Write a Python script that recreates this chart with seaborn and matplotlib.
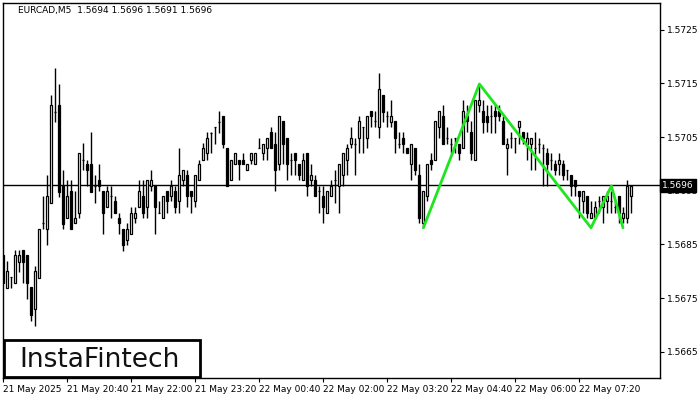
import numpy as np
import pandas as pd
import matplotlib
matplotlib.use("Agg")
import matplotlib.pyplot as plt
from matplotlib.patches import Rectangle
import seaborn as sns

# ---------------- data ----------------
opens = [1.56830,1.56769,1.56789,1.56779,1.56818,1.56840,1.56830,1.56770,1.56729,1.56788,
         1.56889,1.56878,1.56928,1.57097,1.57110,1.56958,1.56899,1.56949,1.56889,1.56909,
         1.57008,1.56999,1.56999,1.56959,1.56970,1.56949,1.56920,1.56940,1.56930,1.56899,
         1.56878,1.56858,1.56869,1.56899,1.56920,1.56940,1.56920,1.56959,1.56959,1.56909,
         1.56899,1.56949,1.56940,1.56949,1.56930,1.56970,1.56979,1.56949,1.56930,1.56970,
         1.57008,1.57020,1.57058,1.57068,1.57079,1.57089,1.57029,1.56970,1.56999,1.57008,
         1.57008,1.56989,1.57008,1.56999,1.57029,1.57020,1.57029,1.57060,1.57038,1.56999,
         1.57080,1.57049,1.57008,1.57020,1.56999,1.56970,1.57020,1.56970,1.56970,1.56949,
         1.56940,1.56909,1.56940,1.56970,1.56959,1.56979,1.57008,1.57038,1.57038,1.57049,
         1.57068,1.57049,1.57099,1.57080,1.57069,1.57128,1.57089,1.57079,1.57080,1.57038,
         1.57049,1.57029,1.56999,1.57029,1.56979,1.56889,1.56940,1.57008,1.57008,1.57069,
         1.57089,1.57049,1.57038,1.57049,1.57038,1.57029,1.57089,1.57060,1.57008,1.57110,
         1.57099,1.57089,1.57089,1.57099,1.57099,1.57080,1.57029,1.57049,1.57049,1.57069,
         1.57060,1.57038,1.57038,1.57029,1.57038,1.57029,1.57020,1.57008,1.56999,1.56999,
         1.56999,1.56989,1.56979,1.56970,1.56949,1.56930,1.56940,1.56899,1.56899,1.56930,
         1.56920,1.56930,1.56930,1.56920,1.56940,1.56899,1.56899,1.56940]
highs = [1.56830,1.56819,1.56789,1.56840,1.56840,1.56840,1.56830,1.56770,1.56809,1.56878,
         1.56940,1.56979,1.57128,1.57178,1.57149,1.56989,1.56970,1.56970,1.56949,1.57020,
         1.57039,1.57008,1.57060,1.56979,1.56999,1.56949,1.56959,1.56959,1.56940,1.56909,
         1.56878,1.56889,1.56920,1.56920,1.56970,1.56970,1.56970,1.56989,1.56959,1.56930,
         1.56940,1.56949,1.56970,1.56959,1.57029,1.56989,1.56989,1.56949,1.56979,1.57008,
         1.57039,1.57060,1.57060,1.57069,1.57099,1.57089,1.57029,1.57008,1.57020,1.57008,
         1.57020,1.56999,1.57020,1.57020,1.57049,1.57038,1.57049,1.57069,1.57060,1.57089,
         1.57080,1.57049,1.57020,1.57020,1.56999,1.57020,1.57020,1.56999,1.56979,1.56959,
         1.56959,1.56949,1.56970,1.56989,1.56999,1.57020,1.57038,1.57069,1.57049,1.57089,
         1.57069,1.57089,1.57099,1.57099,1.57170,1.57128,1.57099,1.57119,1.57080,1.57060,
         1.57060,1.57029,1.57038,1.57029,1.56999,1.56949,1.56999,1.57020,1.57080,1.57099,
         1.57110,1.57069,1.57049,1.57049,1.57038,1.57119,1.57110,1.57080,1.57119,1.57149,
         1.57119,1.57110,1.57110,1.57110,1.57110,1.57089,1.57049,1.57060,1.57049,1.57080,
         1.57060,1.57060,1.57049,1.57060,1.57049,1.57038,1.57029,1.57020,1.57008,1.57020,
         1.57008,1.56989,1.56979,1.56970,1.56949,1.56949,1.56940,1.56930,1.56930,1.56940,
         1.56940,1.56949,1.56949,1.56930,1.56940,1.56920,1.56970,1.56959]
lows = [1.56779,1.56769,1.56769,1.56779,1.56799,1.56779,1.56748,1.56708,1.56698,1.56788,
        1.56878,1.56848,1.56928,1.57079,1.56939,1.56878,1.56899,1.56878,1.56889,1.56899,
        1.56989,1.56959,1.56948,1.56928,1.56949,1.56869,1.56920,1.56899,1.56909,1.56869,
        1.56838,1.56848,1.56869,1.56889,1.56920,1.56899,1.56899,1.56949,1.56869,1.56909,
        1.56899,1.56909,1.56930,1.56909,1.56909,1.56959,1.56920,1.56909,1.56920,1.56970,
        1.57008,1.57008,1.57020,1.57038,1.57058,1.57029,1.56959,1.56970,1.56999,1.56970,
        1.56999,1.56989,1.56999,1.56999,1.57029,1.57008,1.57008,1.57029,1.56949,1.56989,
        1.56999,1.56970,1.56979,1.56979,1.56970,1.56970,1.56940,1.56959,1.56940,1.56909,
        1.56889,1.56909,1.56940,1.56928,1.56909,1.56959,1.56979,1.57029,1.56979,1.57020,
        1.57020,1.57029,1.57069,1.57069,1.57049,1.57079,1.57069,1.57069,1.57020,1.57029,
        1.57020,1.57020,1.56970,1.56979,1.56889,1.56880,1.56930,1.56989,1.57008,1.57049,
        1.57038,1.57038,1.57020,1.57020,1.57008,1.57029,1.57060,1.57008,1.57008,1.57097,
        1.57058,1.57060,1.57058,1.57058,1.57080,1.57038,1.56979,1.57029,1.57020,1.57038,
        1.57038,1.57008,1.56989,1.56989,1.57020,1.56959,1.56959,1.56989,1.56979,1.56979,
        1.56970,1.56970,1.56940,1.56940,1.56899,1.56909,1.56899,1.56899,1.56899,1.56909,
        1.56889,1.56909,1.56909,1.56909,1.56889,1.56889,1.56889,1.56909]
closes = [1.56779,1.56800,1.56789,1.56830,1.56830,1.56818,1.56779,1.56719,1.56800,1.56878,
          1.56889,1.56940,1.57110,1.57097,1.56948,1.56888,1.56940,1.56878,1.56899,1.57020,
          1.57008,1.56988,1.56948,1.56959,1.56959,1.56909,1.56949,1.56940,1.56909,1.56889,
          1.56848,1.56878,1.56909,1.56909,1.56949,1.56909,1.56970,1.56970,1.56920,1.56909,
          1.56940,1.56930,1.56959,1.56920,1.56979,1.56989,1.56940,1.56940,1.56979,1.56999,
          1.57029,1.57049,1.57058,1.57068,1.57079,1.57038,1.56959,1.57008,1.57020,1.56999,
          1.56999,1.56999,1.57020,1.57020,1.57029,1.57038,1.57049,1.57029,1.56989,1.57089,
          1.57038,1.56999,1.57008,1.57008,1.56979,1.57008,1.56959,1.56979,1.56940,1.56949,
          1.56920,1.56949,1.56959,1.56970,1.56999,1.57020,1.57029,1.57049,1.57038,1.57080,
          1.57068,1.57089,1.57089,1.57080,1.57139,1.57097,1.57089,1.57089,1.57049,1.57038,
          1.57038,1.57020,1.57038,1.56989,1.56899,1.56949,1.56999,1.56999,1.57080,1.57099,
          1.57038,1.57049,1.57038,1.57049,1.57020,1.57099,1.57080,1.57020,1.57119,1.57119,
          1.57079,1.57079,1.57089,1.57089,1.57089,1.57038,1.57038,1.57049,1.57049,1.57080,
          1.57049,1.57049,1.57049,1.57029,1.57038,1.57029,1.56999,1.57008,1.56989,1.57008,
          1.56979,1.56989,1.56959,1.56959,1.56940,1.56949,1.56909,1.56909,1.56920,1.56930,
          1.56940,1.56940,1.56930,1.56920,1.56909,1.56909,1.56959,1.56959]

current_price = 1.5696
header = "EURCAD,M5  1.5694 1.5696 1.5691 1.5696"

y_ticks = [1.5665, 1.5675, 1.5685, 1.5695, 1.5705, 1.5715, 1.5725]
x_tick_pos = [0, 16, 32, 48, 64, 80, 96, 112, 128, 144]
x_tick_labels = ["21 May 2025", "21 May 20:40", "21 May 22:00", "21 May 23:20",
                 "22 May 00:40", "22 May 02:00", "22 May 03:20", "22 May 04:40",
                 "22 May 06:00", "22 May 07:20"]

pattern_x = [105.1, 119.1, 147.0, 152.1, 155.0]
pattern_y = [1.56881, 1.57149, 1.56881, 1.56959, 1.56881]

# ---------------- plot ----------------
sns.set_theme(style="white")
plt.rcParams['font.family'] = ['DejaVu Sans']

df = pd.DataFrame({"o": opens, "h": highs, "l": lows, "c": closes})
df["i"] = np.arange(len(df))
df["bull"] = df["c"] >= df["o"]

fig = plt.figure(figsize=(7, 4), dpi=100)
fig.patch.set_facecolor("white")
ax = fig.add_axes([3/700, 22/400, 657/700, 375/400])
ax.set_facecolor("white")

# wicks
ax.vlines(df["i"], df["l"], df["h"], color="black", lw=1.0, zorder=2)
# bodies
bw = 0.55
body_bottom = np.minimum(df["o"], df["c"])
body_h = np.abs(df["c"] - df["o"])
face = np.where(df["bull"], "white", "black")
ax.bar(df["i"], body_h, bottom=body_bottom, width=bw, color=face,
       edgecolor="black", linewidth=0.9, zorder=3)

# current price line
ax.axhline(current_price, color="black", lw=1.0, zorder=1)

# pattern line
sns.lineplot(x=pattern_x, y=pattern_y, color="#1ee61e", lw=2.0, ax=ax,
             sort=False, estimator=None, zorder=4)

ax.set_xlim(0, 164.25)
ax.set_ylim(1.56601, 1.57300)

ax.yaxis.tick_right()
ax.set_yticks(y_ticks)
ax.set_yticklabels([f"{v:.4f}" for v in y_ticks], fontsize=6.5)
ax.set_xticks(x_tick_pos)
ax.set_xticklabels(x_tick_labels, fontsize=6.5, ha="left")
ax.tick_params(axis="y", which="both", right=True, left=False, direction="out",
               length=3, width=0.8, pad=2, colors="black")
ax.tick_params(axis="x", which="both", bottom=True, direction="out",
               length=3, width=0.8, pad=2, colors="black")
for s in ax.spines.values():
    s.set_visible(True)
    s.set_color("black")
    s.set_linewidth(1.0)
ax.grid(False)

# current price box
ax.text(1.003, current_price, f"{current_price:.4f}", transform=ax.get_yaxis_transform(),
        fontsize=6.5, color="white", va="center", ha="left", zorder=10, clip_on=False,
        bbox=dict(boxstyle="square,pad=0.25", facecolor="black", edgecolor="black"))

# header
fig.text(18/700, 1 - 10/400, header, fontsize=6.5, color="black", va="center", ha="left")

# logo
fig.patches.append(Rectangle((4/700, 23/400), 196/700, 37/400, transform=fig.transFigure,
                             facecolor="white", edgecolor="black", linewidth=2, zorder=20))
fig.text(100/700, 1 - 360/400, "InstaFintech", fontsize=19, color="#111111",
         va="center", ha="center", zorder=21)

fig.savefig("out.png", dpi=100, facecolor="white")
